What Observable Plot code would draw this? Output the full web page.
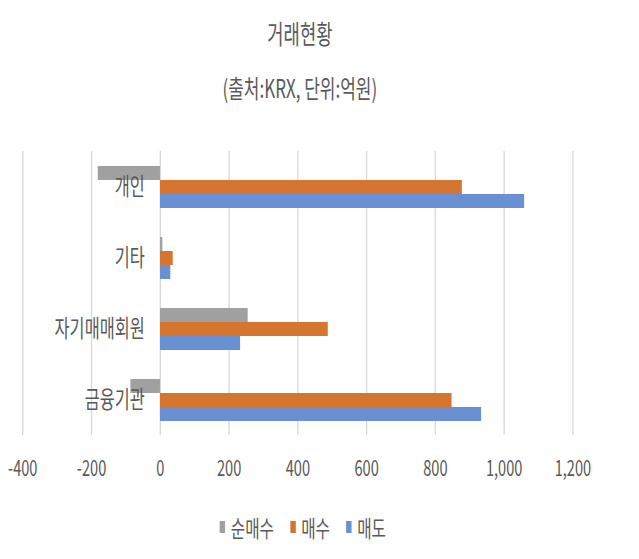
<!DOCTYPE html>
<html>
<head>
<meta charset="utf-8">
<script src="https://cdn.jsdelivr.net/npm/d3@7"></script>
<script src="https://cdn.jsdelivr.net/npm/@observablehq/plot@0.6"></script>
<style>
  html, body { margin: 0; padding: 0; background: #fff; overflow: hidden; }
  #wrap { width: 940px; transform: scaleX(0.68); transform-origin: 0 0; font-family: 'Noto Sans CJK KR', 'Noto Sans', sans-serif; color: #595959; }
  .title { width: 882px; text-align: center; font-size: 26px; line-height: 30px; padding-top: 18px; }
  .sub { width: 882px; text-align: center; font-size: 25px; line-height: 30px; margin-top: 24px; }
  #chart svg { display: block; }
  #legend { width: 891px; display: flex; justify-content: center; align-items: center; margin-top: 26px; line-height: 30px; font-size: 23px; }
  .item { display: flex; align-items: center; margin: 0 12px; }
  .sw { width: 8px; height: 12px; margin-right: 8px; }
</style>
</head>
<body>
<div id="wrap">
  <div class="title">거래현황</div>
  <div class="sub">(출처:KRX, 단위:억원)</div>
  <div id="chart"></div>
  <div id="legend"></div>
</div>
<script>
const categories = ["개인", "기타", "자기매매회원", "금융기관"];
const series = ["순매수", "매수", "매도"];
const netBuy = [-181, 7, 255, -86];
const buy = [878, 37, 488, 848];
const sell = [1059, 30, 233, 934];
const xTicks = [-400, -200, 0, 200, 400, 600, 800, 1000, 1200];
const colors = ["#A0A0A0", "#D57530", "#6890D2"];

const seriesValues = [netBuy, buy, sell];
const rows = categories.flatMap((c, i) =>
  series.map((s, j) => ({category: c, series: s, value: seriesValues[j][i]}))
);

const plot = Plot.plot({
  width: 940,
  height: 384,
  marginTop: 48,
  marginBottom: 50,
  marginLeft: 33,
  marginRight: 98,
  style: {fontFamily: "'Noto Sans CJK KR', sans-serif", fontSize: "21.5px", color: "#595959", background: "transparent"},
  x: {domain: [-400, 1200], ticks: xTicks, tickFormat: d => d.toLocaleString("en-US"), tickSize: 0, tickPadding: 25, label: null},
  y: {domain: series, axis: null, paddingInner: 0, paddingOuter: 0.97},
  fy: {domain: categories, axis: null, padding: 0},
  color: {domain: series, range: colors},
  marks: [
    Plot.ruleX(xTicks, {stroke: "#d9d9d9", strokeWidth: 2}),
    Plot.barX(rows, {x: "value", y: "series", fy: "category", fill: "series"}),
    Plot.text(categories, {fy: d => d, x: () => 0, text: d => d, textAnchor: "end", dx: -23, fontSize: 24, fill: "#595959"})
  ]
});
document.getElementById("chart").appendChild(plot);

const legend = document.getElementById("legend");
series.forEach((s, i) => {
  const item = document.createElement("div");
  item.className = "item";
  const sw = document.createElement("span");
  sw.className = "sw";
  sw.style.background = colors[i];
  const t = document.createElement("span");
  t.textContent = s;
  item.appendChild(sw);
  item.appendChild(t);
  legend.appendChild(item);
});
</script>
</body>
</html>
